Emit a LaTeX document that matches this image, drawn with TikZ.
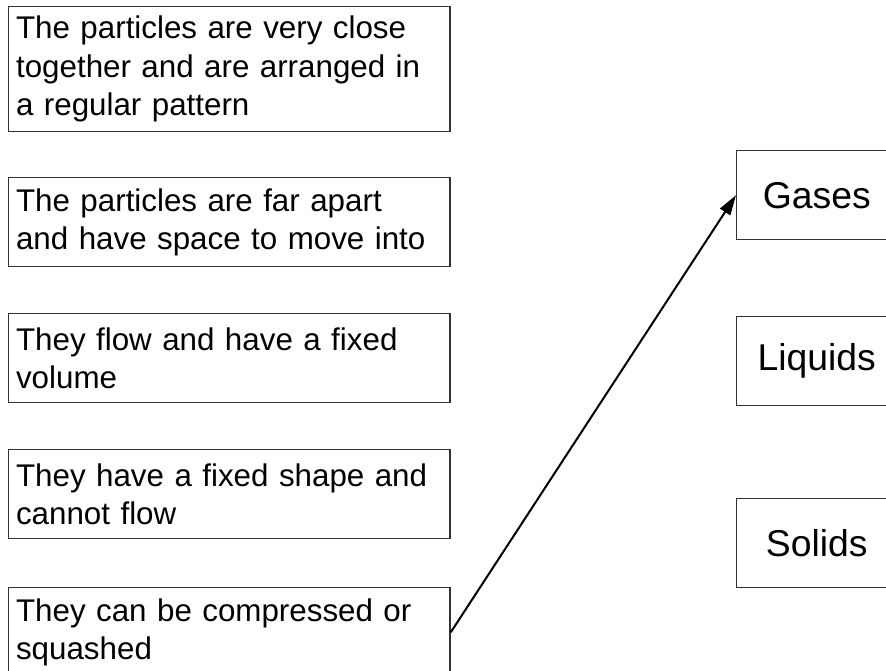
\documentclass[tikz,border=0pt]{standalone}
\usepackage{fontspec}
\setmainfont{Liberation Sans}
\usepackage{tikz}
\usetikzlibrary{arrows.meta, positioning}

\tikzset{
  statebox/.style={draw=black!80, line width=1.1pt, anchor=north west, text width=320pt, inner xsep=5.5pt, minimum height=66.75pt, align=left, font=\fontsize{23.5}{28.8}\selectfont},
  phasebox/.style={draw=black!80, line width=1.1pt, anchor=north west, minimum width=120pt, minimum height=66.75pt, font=\fontsize{28}{34}\selectfont},
}

\begin{document}
\begin{tikzpicture}[x=0.75pt, y=-0.75pt]
  \useasboundingbox (0,0) rectangle (886,671);
  \clip (0,0) rectangle (886,671);

  % statements
  \node[statebox, minimum height=93.75pt] (close) at (8,6) {The particles are very close\\together and are arranged in\\a regular pattern};
  \node[statebox] (apart) at (8,177) {The particles are far apart\\and have space to move into};
  \node[statebox] (flow) at (8,313) {They flow and have a fixed\\volume};
  \node[statebox] (shape) at (8,449) {They have a fixed shape and\\cannot flow};
  \node[statebox] (squash) at (8,587) {They can be compressed or\\squashed};

  % states of matter
  \node[phasebox] (gases) at (736,150) {Gases};
  \node[phasebox] (liquids) at (736,316) {Liquids};
  \node[phasebox] (solids) at (736,498) {Solids};

  \draw[line width=1.5pt, -{Triangle[length=15pt, width=9pt]}] (squash.east) -- (gases.west);
\end{tikzpicture}
\end{document}
